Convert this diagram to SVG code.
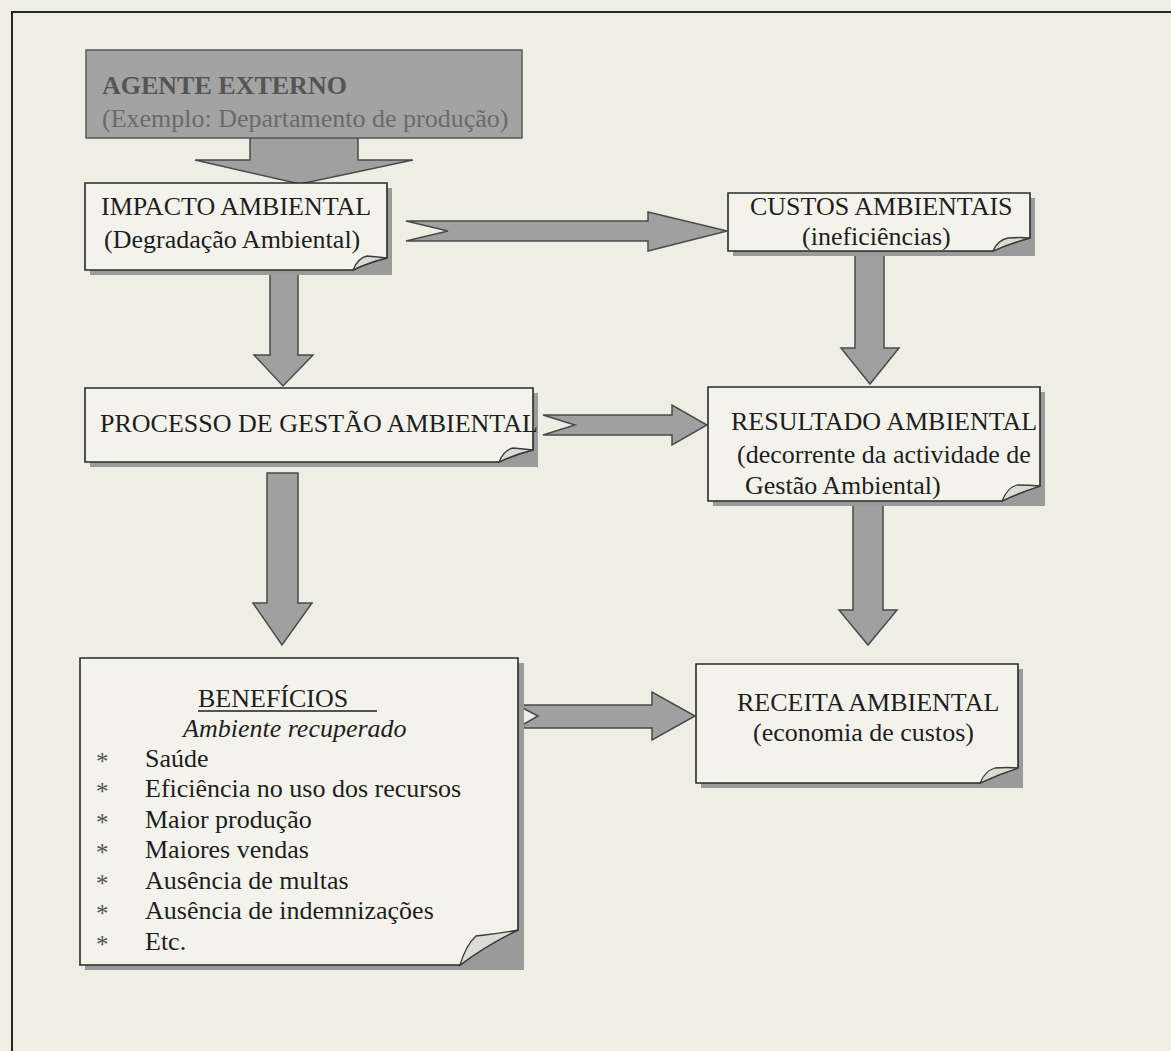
<svg xmlns="http://www.w3.org/2000/svg" width="1171" height="1051" viewBox="0 0 1171 1051">
<style>
text{font-family:"Liberation Serif","Times New Roman",serif;font-size:26px;fill:#1e1e1e}
.arrow{fill:#a0a0a0;stroke:#4a4a4a;stroke-width:1.5;stroke-linejoin:miter}
.box{fill:#f3f3eb;stroke:#2a2a2a;stroke-width:1.6}
.shadow{fill:#9a9a9a}
.flap{fill:#dcdcd4;stroke:#3a3a3a;stroke-width:1.3}
.bul{font-size:25px;fill:#555}
</style>
<rect x="0" y="0" width="1171" height="1051" fill="#eeeee5"/>
<rect x="12" y="12" width="1180" height="1060" fill="none" stroke="#262626" stroke-width="2"/>

<g id="connectors">
<polygon class="arrow" points="250,136 358,136 358,160 413,160 300,184 195,160 250,160"/>
<polygon class="arrow" points="406,221 648,221 648,212 727,231 648,251 648,241 406,241 448,231"/>
<polygon class="arrow" points="270,270 298,270 298,355 313,355 283,386 254,355 270,355"/>
<polygon class="arrow" points="855,251 884,251 884,348 899,348 870,384 841,348 855,348"/>
<polygon class="arrow" points="543,415 672,415 672,405 707,425 672,445 672,435 543,435 575,425"/>
<polygon class="arrow" points="267,473 298,473 298,603 312,603 282,645 253,603 267,603"/>
<polygon class="arrow" points="853,501 883,501 883,610 897,610 868,645 839,610 853,610"/>
<polygon class="arrow" points="517,705 652,705 652,692 695,716 652,740 652,728 517,728 538,716"/>
</g>

<g id="agente">
<rect x="86" y="50" width="436" height="88" fill="#a3a3a3" stroke="#555" stroke-width="1.5"/>
<text x="102" y="94" font-weight="bold" style="fill:#555">AGENTE EXTERNO</text>
<text x="102" y="127" style="fill:#6a6a6a">(Exemplo: Departamento de produção)</text>
</g>

<g id="impacto">
<path class="shadow" d="M90 188 H392 V275 H90 Z"/>
<path class="box" d="M85 183 H387 V258 Q370 262 353 270 H85 Z"/>
<path class="flap" d="M353 270 Q358 258 367 256 Q378 257 387 258 Q370 262 353 270 Z"/>
<text x="101" y="215">IMPACTO AMBIENTAL</text>
<text x="104" y="248">(Degradação Ambiental)</text>
</g>

<g id="custos">
<path class="shadow" d="M733 198 H1035 V256 H733 Z"/>
<path class="box" d="M728 193 H1030 V238 Q1011 243 993 251 H728 Z"/>
<path class="flap" d="M993 251 Q998 240 1008 238 Q1020 237 1030 238 Q1011 243 993 251 Z"/>
<text x="750" y="215">CUSTOS AMBIENTAIS</text>
<text x="802" y="245">(ineficiências)</text>
</g>

<g id="processo">
<path class="shadow" d="M90 393 H538 V467 H90 Z"/>
<path class="box" d="M85 388 H533 V450 Q516 454 499 462 H85 Z"/>
<path class="flap" d="M499 462 Q504 450 513 448 Q524 449 533 450 Q516 454 499 462 Z"/>
<text x="100" y="432">PROCESSO DE GESTÃO AMBIENTAL</text>
</g>

<g id="resultado">
<path class="shadow" d="M713 392 H1045 V506 H713 Z"/>
<path class="box" d="M708 387 H1040 V486 Q1021 492 1002 501 H708 Z"/>
<path class="flap" d="M1002 501 Q1007 488 1017 485 Q1029 485 1040 486 Q1021 492 1002 501 Z"/>
<text x="731" y="430">RESULTADO AMBIENTAL</text>
<text x="737" y="463">(decorrente da actividade de</text>
<text x="745" y="494">Gestão Ambiental)</text>
</g>

<g id="beneficios">
<path class="shadow" d="M85 663 H524 V970 H85 Z"/>
<path class="box" d="M80 658 H518 V930 Q488 944 460 965 H80 Z"/>
<path class="flap" d="M460 965 Q466 945 476 936 Q496 934 518 930 Q488 944 460 965 Z"/>
<text x="198" y="707">BENEFÍCIOS</text>
<line x1="198" y1="711" x2="377" y2="711" stroke="#1e1e1e" stroke-width="1.3"/>
<text x="183" y="737" font-style="italic">Ambiente recuperado</text>
<text class="bul" x="96" y="770">*</text><text x="145" y="767">Saúde</text>
<text class="bul" x="96" y="800">*</text><text x="145" y="797">Eficiência no uso dos recursos</text>
<text class="bul" x="96" y="831">*</text><text x="145" y="828">Maior produção</text>
<text class="bul" x="96" y="861">*</text><text x="145" y="858">Maiores vendas</text>
<text class="bul" x="96" y="892">*</text><text x="145" y="889">Ausência de multas</text>
<text class="bul" x="96" y="922">*</text><text x="145" y="919">Ausência de indemnizações</text>
<text class="bul" x="96" y="953">*</text><text x="145" y="950">Etc.</text>
</g>

<g id="receita">
<path class="shadow" d="M701 669 H1023 V788 H701 Z"/>
<path class="box" d="M696 664 H1018 V768 Q999 774 980 783 H696 Z"/>
<path class="flap" d="M980 783 Q985 771 995 768 Q1007 767 1018 768 Q999 774 980 783 Z"/>
<text x="737" y="711">RECEITA AMBIENTAL</text>
<text x="753" y="741">(economia de custos)</text>
</g>
</svg>
